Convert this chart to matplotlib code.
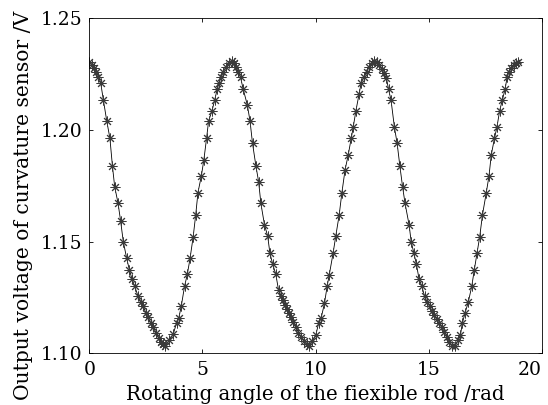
# Output voltage of the curvature sensor vs rotating angle of the flexible rod

import matplotlib
matplotlib.use("Agg")
import matplotlib.pyplot as plt

# ------------------------------
# Data
# ------------------------------

angle = [
    0.00, 0.12, 0.21, 0.30, 0.40, 0.50, 0.62, 0.77, 0.91, 1.02, 1.12, 1.27,
    1.38, 1.50, 1.65, 1.77, 1.89, 2.00, 2.15, 2.27, 2.39, 2.49, 2.59, 2.71,
    2.83, 2.94, 3.06, 3.17, 3.27, 3.36, 3.53, 3.71, 3.86, 3.95, 4.06, 4.21,
    4.33, 4.45, 4.59, 4.70, 4.80, 4.95, 5.06, 5.18, 5.27,
    5.42, 5.54, 5.65, 5.74, 5.83, 5.92, 6.04, 6.15, 6.29, 6.39, 6.48, 6.57,
    6.68, 6.80, 6.98, 7.10, 7.21, 7.36, 7.48, 7.58, 7.74, 7.88, 7.98, 8.10,
    8.24, 8.36, 8.48, 8.57, 8.65, 8.74, 8.83, 8.92, 9.01, 9.13, 9.24, 9.36,
    9.48, 9.60, 9.70, 9.86, 10.01, 10.13, 10.24, 10.39, 10.51, 10.60,
    10.77, 10.89, 11.04, 11.16, 11.30, 11.44, 11.57, 11.66, 11.78, 11.92,
    12.01, 12.13, 12.25, 12.36, 12.47, 12.57, 12.69, 12.81, 12.91, 13.01,
    13.13, 13.22, 13.33, 13.48, 13.60, 13.72, 13.84, 13.95, 14.13, 14.22,
    14.34, 14.45, 14.57, 14.69, 14.81, 14.92, 15.04, 15.14, 15.25, 15.34,
    15.45, 15.57, 15.69, 15.81, 15.90,
    16.01, 16.16, 16.31, 16.40, 16.48, 16.60, 16.75, 16.90, 17.01, 17.13,
    17.25, 17.37, 17.54, 17.66, 17.76, 17.90, 18.01, 18.13, 18.25, 18.37,
    18.46, 18.54, 18.63, 18.75, 18.84, 18.96,
]

voltage = [
    1.2306, 1.2291, 1.2276, 1.2258, 1.2239, 1.2212, 1.2134, 1.2040, 1.1962,
    1.1839, 1.1746, 1.1671, 1.1594, 1.1500, 1.1425, 1.1373, 1.1331, 1.1301,
    1.1256, 1.1231, 1.1209, 1.1182, 1.1161, 1.1137, 1.1116, 1.1092, 1.1070,
    1.1052, 1.1040, 1.1032, 1.1057, 1.1086, 1.1137, 1.1156, 1.1209, 1.1301,
    1.1353, 1.1424, 1.1522, 1.1619, 1.1719, 1.1794, 1.1865, 1.1962, 1.2040,
    1.2085, 1.2134, 1.2182, 1.2212, 1.2236, 1.2261, 1.2283, 1.2301, 1.2310,
    1.2301, 1.2283, 1.2261, 1.2236, 1.2182, 1.2112, 1.2040, 1.1940, 1.1839,
    1.1768, 1.1671, 1.1574, 1.1525, 1.1447, 1.1400, 1.1353, 1.1283, 1.1256,
    1.1238, 1.1216, 1.1197, 1.1179, 1.1164, 1.1141, 1.1119, 1.1092, 1.1071,
    1.1055, 1.1041, 1.1032, 1.1055, 1.1082, 1.1134, 1.1156, 1.1223, 1.1301,
    1.1350,
    1.1447, 1.1525, 1.1619, 1.1719, 1.1821, 1.1888, 1.1962, 1.2012, 1.2086,
    1.2161, 1.2209, 1.2239, 1.2261, 1.2283, 1.2298, 1.2310, 1.2306, 1.2291,
    1.2271, 1.2254, 1.2231, 1.2182, 1.2134, 1.2012, 1.1940, 1.1839, 1.1746,
    1.1671, 1.1574, 1.1500, 1.1447, 1.1400, 1.1331, 1.1301, 1.1256, 1.1231,
    1.1209, 1.1188, 1.1171, 1.1152, 1.1134, 1.1116, 1.1097, 1.1074, 1.1052,
    1.1032, 1.1032, 1.1060, 1.1082, 1.1134, 1.1179, 1.1231, 1.1301, 1.1373,
    1.1447, 1.1522, 1.1619, 1.1719, 1.1794, 1.1888, 1.1962, 1.2012, 1.2086,
    1.2134, 1.2182, 1.2236, 1.2261, 1.2276, 1.2291, 1.2301, 1.2306,
]

x_ticks = [0, 5, 10, 15, 20]
y_ticks = [1.10, 1.15, 1.20, 1.25]
y_tick_labels = ["1.10", "1.15", "1.20", "1.25"]

# ------------------------------
# Plot
# ------------------------------

plt.rcParams["font.family"] = ["DejaVu Serif"]

fig = plt.figure(figsize=(5.48, 4.05), dpi=100)
ax = fig.add_axes([0.163, 0.128, 0.826, 0.827])

# asterisk markers joined by a thin line
ax.plot(angle, voltage, color="black", linewidth=0.6,
        marker=(8, 2, 0), markersize=7, markeredgewidth=0.7,
        markeredgecolor="#3a3a3a")

ax.set_xlim(0, 20)
ax.set_ylim(1.10, 1.25)
ax.set_xticks(x_ticks)
ax.set_yticks(y_ticks)
ax.set_yticklabels(y_tick_labels)

ax.tick_params(direction="in", length=3, width=0.6, labelsize=13.5,
               top=True, right=True)
ax.tick_params(axis="x", pad=6)
ax.tick_params(axis="y", pad=5)
for side in ax.spines.values():
    side.set_linewidth(0.6)

# keep the last x tick label inside the picture
ax.get_xticklabels()[-1].set_horizontalalignment("right")

ax.set_xlabel("Rotating angle of the fiexible rod /rad", fontsize=14.2, labelpad=4)
ax.set_ylabel("Output voltage of curvature sensor /V", fontsize=14.6)
# the y label sits a little below the axes centre, as in the original
ax.yaxis.set_label_coords(-0.125, 0.44)

fig.savefig("out.png", dpi=100)
